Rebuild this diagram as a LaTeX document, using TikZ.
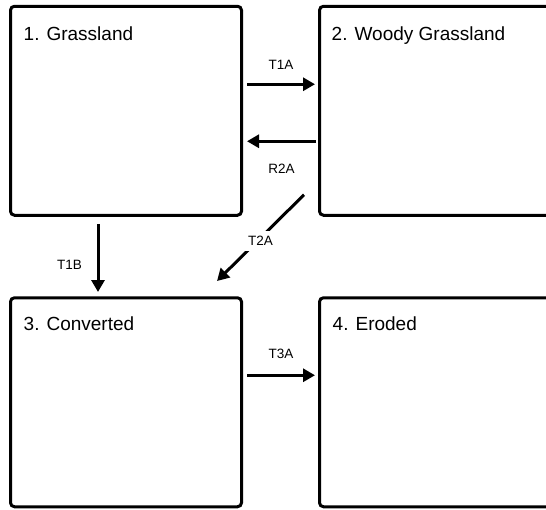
\documentclass[tikz,border=0pt]{standalone}
\usepackage{fontspec}
\setmainfont{Liberation Sans}
\usetikzlibrary{arrows.meta, calc}

\begin{document}
\begin{tikzpicture}[x=1pt, y=-1pt, >={Triangle[length=12pt, width=13pt]},
    statebox/.style={draw, line width=3pt, rounded corners=4pt, outer sep=0pt, minimum width=231pt, minimum height=209pt},
    statetitle/.style={anchor=base west, inner sep=0pt, font=\fontsize{19}{22}\selectfont},
    trans/.style={->, line width=3pt},
    translabel/.style={font=\fontsize{13.5}{15}\selectfont, inner sep=0pt}]
    \useasboundingbox (0,0) rectangle (546,509);
    \clip (0,0) rectangle (546,509);

    % states
    \node [statebox] (grass) at (126,110.75) {};
    \node [statebox] (woody) at (435,110.75) {};
    \node [statebox] (conv) at (126,402.25) {};
    \node [statebox] (eroded) at (435,402.25) {};

    \node [statetitle] (grasst) at ($(grass.north west)+(13,34)$) {1. Grassland};
    \node [statetitle] (woodyt) at ($(woody.north west)+(12,34)$) {2. Woody Grassland};
    \node [statetitle] (convt) at ($(conv.north west)+(13,32.5)$) {3. Converted};
    \node [statetitle] (erodedt) at ($(eroded.north west)+(13,32.5)$) {4. Eroded};

    % transitions
    \draw [trans] ($(grass.east)+(5.5,-26.5)$) -- node [translabel, yshift=19.5pt] (t1a) {T1A} ($(woody.west)+(-4.5,-26.5)$);
    \draw [trans] ($(woody.west)+(-3.5,30.5)$) -- node [translabel, yshift=-27.5pt] (r2a) {R2A} ($(grass.east)+(5.5,30.5)$);
    \draw [trans] ($(grass.south)+(-28,8.5)$) -- node [translabel, xshift=-28.5pt, yshift=-7pt] (t1b) {T1B} ($(conv.north)+(-28,-5.75)$);
    \draw [trans] ($(woody.south west)+(-15.5,-20.5)$) -- node [translabel, fill=white, inner sep=5pt, yshift=-3pt] (t2a) {T2A} ($(conv.north east)+(-24.5,-16.75)$);
    \draw [trans] ($(conv.east)+(5.5,-27)$) -- node [translabel, yshift=21pt] (t3a) {T3A} ($(eroded.west)+(-4.5,-27)$);
\end{tikzpicture}
\end{document}
